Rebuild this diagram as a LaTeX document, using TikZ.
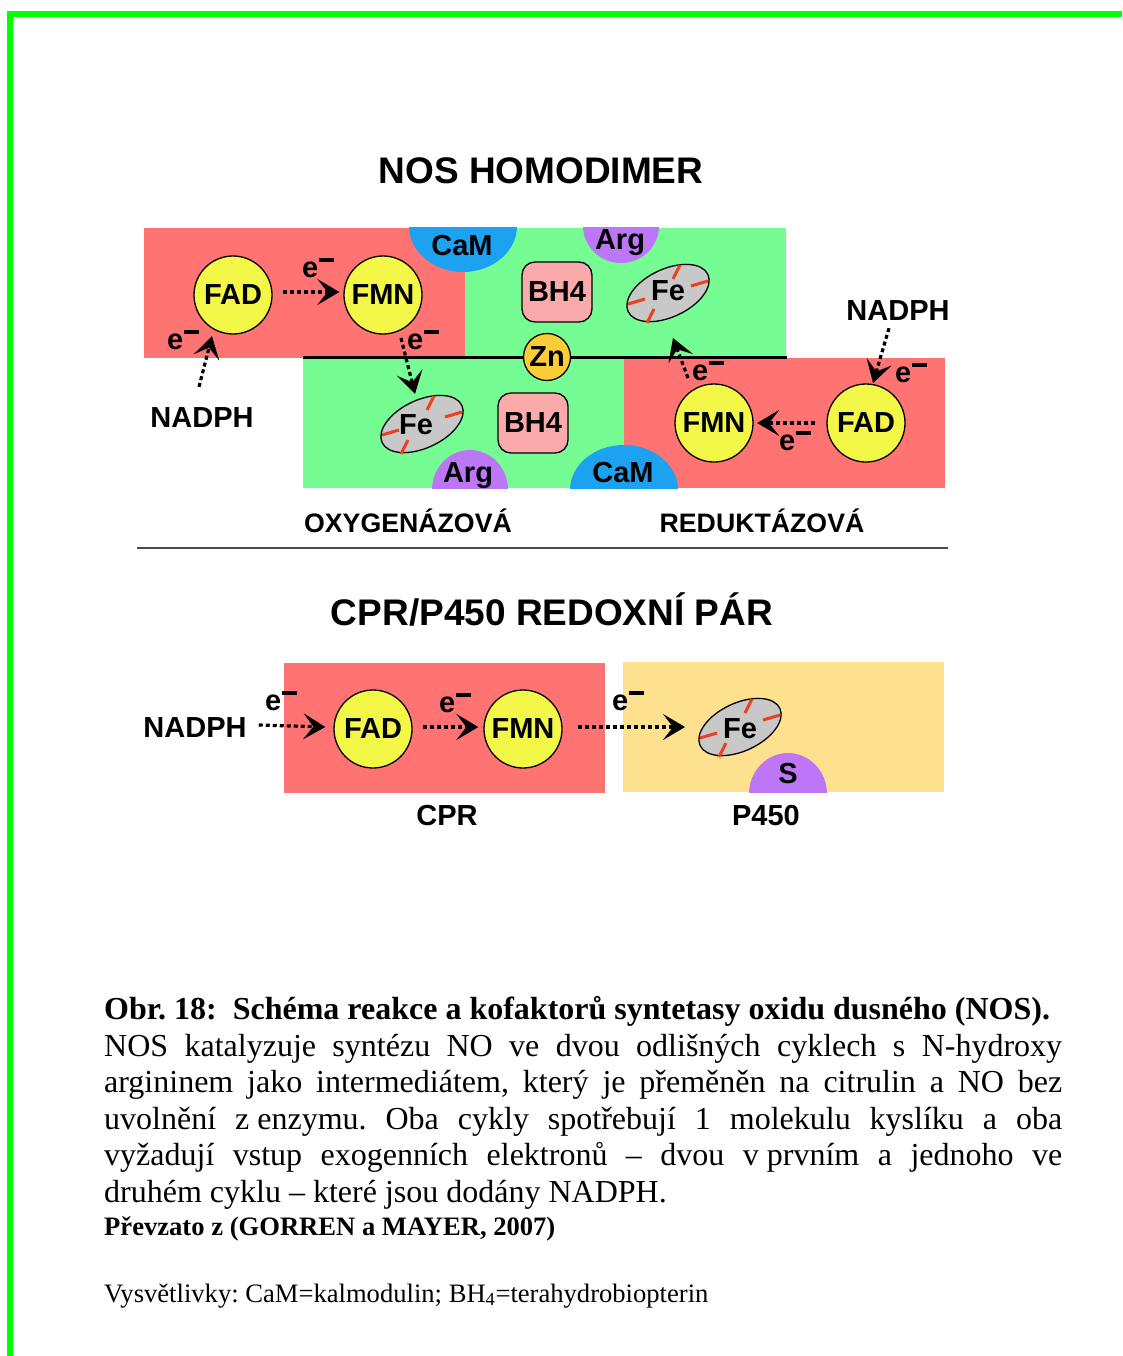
\documentclass[tikz,border=0pt]{standalone}
\usepackage{fontspec}
\setmainfont{Liberation Serif}
\newfontfamily\dg{Liberation Sans}
\usetikzlibrary{arrows.meta,calc,shapes.geometric}
\frenchspacing
\definecolor{redA}{RGB}{255,115,115}
\definecolor{grnA}{RGB}{117,252,146}
\definecolor{cofY}{RGB}{242,247,72}
\definecolor{bhP}{RGB}{250,170,170}
\definecolor{znO}{RGB}{253,205,55}
\definecolor{feG}{RGB}{200,200,200}
\definecolor{camB}{RGB}{28,162,240}
\definecolor{argP}{RGB}{190,118,248}
\definecolor{pY}{RGB}{253,225,143}
\definecolor{spokeR}{RGB}{235,65,30}
\definecolor{frameG}{RGB}{0,255,0}
\newcommand\elec{e\kern1pt\raisebox{16pt}{\rule{15pt}{4pt}}}
\newcommand\lbfont{\dg\bfseries\fontsize{29}{30}\selectfont}
\tikzset{
 lb/.style={font=\lbfont, inner sep=0pt},
 sublb/.style={font=\dg\bfseries\fontsize{26.7}{30}\selectfont, inner sep=0pt},
 ttl/.style={font=\dg\bfseries\fontsize{37}{40}\selectfont, inner sep=0pt},
 cof/.style={circle, draw=black, line width=1.3pt, fill=cofY, minimum size=78pt, inner sep=0pt, font=\lbfont},
 bh/.style={draw=black, line width=1.3pt, fill=bhP, rounded corners=13pt, minimum width=70pt, minimum height=60pt, inner sep=0pt, font=\lbfont},
 znc/.style={circle, draw=black, line width=1.3pt, fill=znO, minimum size=47pt, inner sep=0pt},
 feS/.style={ellipse, draw=black, line width=1.3pt, fill=feG, minimum width=88pt, minimum height=48pt, inner sep=0pt, rotate=25},
 spoke/.style={draw=spokeR, line width=3pt},
 earrow/.style={line width=3.2pt, dash pattern=on 4pt off 3pt, -{Stealth[length=22pt 0 0, width=26pt 0 0, inset=10pt 0 0]}},
 eln/.style={font=\lbfont, inner sep=0pt, anchor=base west},
 capr/.style={font=\fontsize{32}{36}\selectfont, inner sep=0pt, anchor=base west},
 capb/.style={font=\bfseries\fontsize{32}{36}\selectfont, inner sep=0pt, anchor=base west},
 small/.style={font=\fontsize{26.6}{30}\selectfont, inner sep=0pt, anchor=base west},
}
\begin{document}
\begin{tikzpicture}[x=1pt,y=-1pt]
\useasboundingbox (0,0) rectangle (1122,1356);
% frame
\fill[frameG] (7,11) rectangle (1122,17);
\fill[frameG] (7,11) rectangle (13,1356);

% ---------- NOS homodimer ----------
\node[ttl, anchor=base] (t1) at (541,184) {NOS HOMODIMER};
\fill[redA] (144,228) rectangle (465,358);
\fill[grnA] (465,228) rectangle (786,358);
\fill[grnA] (303,358) rectangle (624,488);
\fill[redA] (624,358) rectangle (945,488);
\begin{scope}
 \clip (144,228) rectangle (786,358);
 \fill[camB] (463,226) ellipse [x radius=54, y radius=46];
 \fill[argP] (621,226) ellipse [x radius=38, y radius=37];
\end{scope}
\begin{scope}
 \clip (303,358) rectangle (945,488);
 \fill[argP] (470,490) ellipse [x radius=38, y radius=40];
 \fill[camB] (624,490) ellipse [x radius=54, y radius=45];
\end{scope}
\draw[line width=3pt] (303,357) -- (787,357);

\node[lb, anchor=base] (cam1) at (462,255) {CaM};
\node[lb, anchor=base] (arg1) at (620,250) {Arg};
\node[lb, anchor=base] (arg2) at (468,482) {Arg};
\node[lb, anchor=base] (cam2) at (623,482) {CaM};

\node[cof] (fad1) at (233,295) {FAD};
\node[cof] (fmn1) at (383,295) {FMN};
\node[cof] (fmn2) at (714,423) {FMN};
\node[cof] (fad2) at (866,423) {FAD};
\node[bh] (bh1) at (557,292) {BH4};
\node[bh] (bh2) at (533,423) {BH4};
\node[znc] (zn) at (547,357) {};
\node[lb] at (zn) {Zn};

\node[feS] (fe1) at (668,293) {};
\node[feS] (fe2) at (422,424) {};
\foreach \f in {fe1,fe2}{
 \draw[spoke] ($(\f)+(-40,11)$) -- ($(\f)+(-23,6)$);
 \draw[spoke] ($(\f)+(40,-12)$) -- ($(\f)+(23,-7)$);
 \draw[spoke] ($(\f)+(12,-28)$) -- ($(\f)+(5,-14)$);
 \draw[spoke] ($(\f)+(-21,30)$) -- ($(\f)+(-14,16)$);
}
\node[lb] at ($(fe1)+(0,-2)$) {Fe};
\node[lb] at ($(fe2)+(-6,1)$) {Fe};

\node[lb, anchor=base] (nadph1) at (202,427) {NADPH};
\node[lb, anchor=base] (nadph2) at (898,320) {NADPH};

\draw[earrow] ($(nadph1.north)+(-3,-20)$) -- ($(fad1)+(-21,41)$);
\draw[earrow] ($(fad1.east)+(10,-3)$) -- ($(fmn1.west)+(-4,-3)$);
\draw[earrow] ($(fmn1)+(18,43)$) -- ($(fe2)+(-7,-30)$);
\draw[earrow] ($(fmn2)+(-26,-45)$) -- ($(fe1)+(5,45)$);
\draw[earrow] ($(nadph2.south)+(-9,8)$) -- ($(fad2)+(7,-40)$);
\draw[earrow] ($(fad2.west)+(-11,0)$) -- ($(fmn2.east)+(3.5,0)$);

\node[eln] (e1) at (302,277.5) {\elec};
\node[eln] (e2) at (167,349.5) {\elec};
\node[eln] (e3) at (407,349.5) {\elec};
\node[eln] (e4) at (692,380.5) {\elec};
\node[eln] (e5) at (895,382.5) {\elec};
\node[eln] (e6) at (779,450.5) {\elec};

\node[sublb, anchor=base] (oxy) at (408,532) {OXYGENÁZOVÁ};
\node[sublb, anchor=base] (red) at (762,532) {REDUKTÁZOVÁ};
\draw[line width=2pt, black!70] (137,548) -- (948,548);

% ---------- CPR/P450 ----------
\node[ttl, anchor=base] (t2) at (552,625) {CPR/P450 REDOXNÍ PÁR};
\fill[redA] (284,663) rectangle (605,793);
\fill[pY] (623,662) rectangle (944,792);
\begin{scope}
 \clip (623,662) rectangle (944,792);
 \fill[argP] (788,794) ellipse [x radius=39, y radius=41];
\end{scope}
\node[lb, anchor=base] (s) at (788,783) {S};
\node[cof] (fad3) at (373,729) {FAD};
\node[cof] (fmn3) at (523,729) {FMN};
\node[feS] (fe3) at (740,727) {};
\draw[spoke] ($(fe3)+(-40,11)$) -- ($(fe3)+(-23,6)$);
\draw[spoke] ($(fe3)+(40,-12)$) -- ($(fe3)+(23,-7)$);
\draw[spoke] ($(fe3)+(12,-28)$) -- ($(fe3)+(5,-14)$);
\draw[spoke] ($(fe3)+(-21,30)$) -- ($(fe3)+(-14,16)$);
\node[lb] at ($(fe3)+(0,2)$) {Fe};
\node[lb, anchor=base] (nadph3) at (195,737) {NADPH};
\draw[earrow] ($(nadph3.east)+(12,-2)$) -- ($(fad3.west)+(-8,-2)$);
\draw[earrow] ($(fad3.east)+(10,-2)$) -- ($(fmn3.west)+(-5,-2)$);
\draw[earrow] ($(fmn3.east)+(15,-2)$) -- ($(fe3)+(-55,0)$);
\node[eln] (e7) at (265,710.5) {\elec};
\node[eln] (e8) at (439,712.5) {\elec};
\node[eln] (e9) at (612,710.5) {\elec};
\node[lb, anchor=base] (cpr) at (447,825) {CPR};
\node[lb, anchor=base] (p450) at (766,825) {P450};

% ---------- caption ----------
\node[capb] (h) at (104,1019) {Obr. 18:\hspace{0.5em}Schéma reakce a kofaktorů syntetasy oxidu dusného (NOS).};
\node[capr] (l1) at (104,1056) {\makebox[958pt][s]{NOS katalyzuje syntézu NO ve dvou odlišných cyklech s N-hydroxy}};
\node[capr] (l2) at (104,1092.6) {\makebox[958pt][s]{argininem jako intermediátem, který je přeměněn na citrulin a NO bez}};
\node[capr] (l3) at (104,1129.2) {\makebox[958pt][s]{uvolnění z\kern8pt enzymu. Oba cykly spotřebují 1 molekulu kyslíku a oba}};
\node[capr] (l4) at (104,1165.8) {\makebox[958pt][s]{vyžadují vstup exogenních elektronů – dvou v\kern8pt prvním a jednoho ve}};
\node[capr] (l5) at (104,1202.4) {druhém cyklu – které jsou dodány NADPH.};
\node[small, font=\bfseries\fontsize{26.6}{30}\selectfont] (src) at (104,1235) {Převzato z (GORREN a MAYER, 2007)};
\node[small] (leg) at (104,1302) {Vysvětlivky: CaM=kalmodulin; BH\textsubscript{4}=terahydrobiopterin};
\end{tikzpicture}
\end{document}
